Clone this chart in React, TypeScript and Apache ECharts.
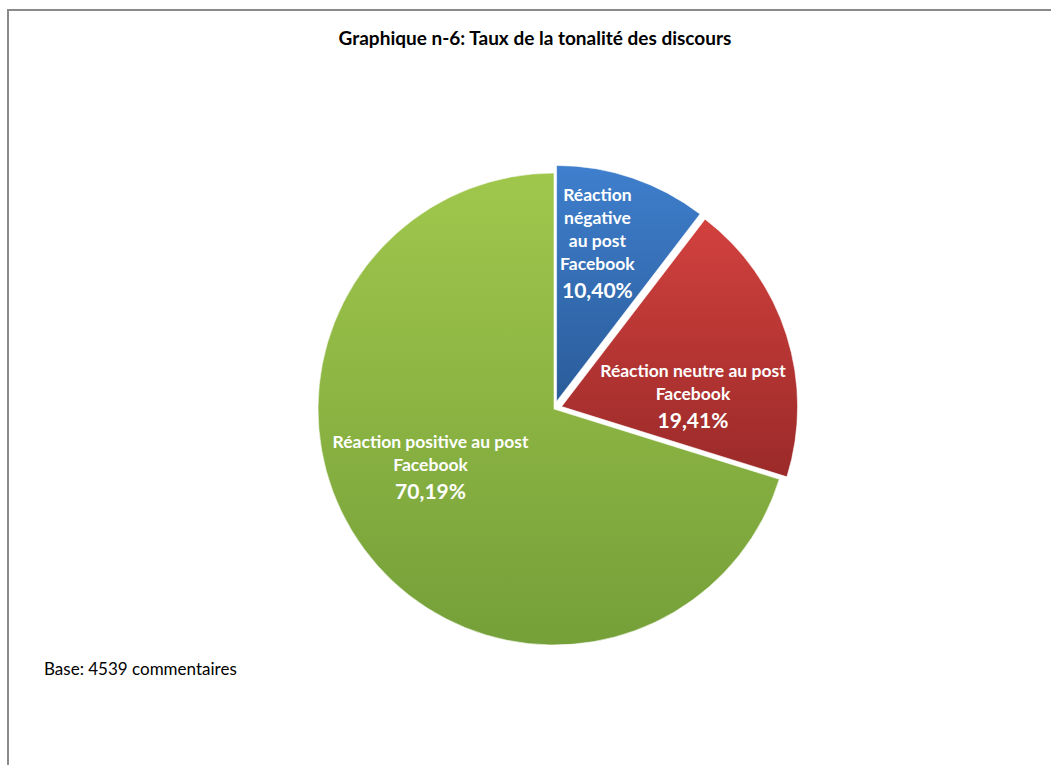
import React, { useEffect, useRef } from "react";
import * as echarts from "echarts";

const categories = [
  "Réaction négative au post Facebook",
  "Réaction neutre au post Facebook",
  "Réaction positive au post Facebook",
];
const labelTexts = [
  "Réaction\nnégative\nau post\nFacebook",
  "Réaction neutre au post\nFacebook",
  "Réaction positive au post\nFacebook",
];
const values = [10.4, 19.41, 70.19];
const exploded = [true, true, false];
const titleText = "Graphique n-6: Taux de la tonalité des discours";
const noteText = "Base: 4539 commentaires";

const gradients = [
  ["#3f7fcd", "#2a5c9a"],
  ["#d2413e", "#9a2a29"],
  ["#a0c74c", "#75a039"],
];
const labelShift = [
  [2, -43],
  [16, 27],
  [-26, -13],
];

const FONT = "Lato, 'Open Sans', sans-serif";

export default function App() {
  const ref = useRef<HTMLDivElement>(null);
  useEffect(() => {
    if (!ref.current) return;
    const chart = echarts.init(ref.current, null, { renderer: "svg" });
    const data = categories.map((name, i) => ({
      name,
      value: values[i],
      selected: exploded[i],
      itemStyle: {
        color: new echarts.graphic.LinearGradient(0, 0, 0, 1, [
          { offset: 0, color: gradients[i][0] },
          { offset: 1, color: gradients[i][1] },
        ]),
      },
      label: {
        formatter: () =>
          labelTexts[i]
            .split("\n")
            .map((l) => `{n|${l}}`)
            .join("\n") +
          `\n{p|${values[i].toFixed(2).replace(".", ",")}%}`,
      },
    }));
    chart.setOption({
      animation: false,
      backgroundColor: "#ffffff",
      graphic: [
        {
          type: "rect",
          shape: { x: 8, y: 10, width: 1100, height: 800 },
          style: { fill: "none", stroke: "#8a8a8a", lineWidth: 2 },
          silent: true,
        },
        {
          type: "text",
          x: 535,
          y: 37,
          style: {
            text: titleText,
            font: `bold 19px ${FONT}`,
            fill: "#000",
            align: "center",
            verticalAlign: "middle",
          },
        },
        {
          type: "text",
          x: 44,
          y: 668,
          style: {
            text: noteText,
            font: `17px ${FONT}`,
            fill: "#000",
            align: "left",
            verticalAlign: "middle",
          },
        },
      ],
      series: [
        {
          type: "pie",
          center: [554, 409],
          radius: [0, 236],
          startAngle: 90,
          clockwise: true,
          selectedMode: "multiple",
          selectedOffset: 8,
          avoidLabelOverlap: false,
          itemStyle: { borderColor: "#ffffff", borderWidth: 0.6 },
          emphasis: { disabled: true },
          select: { disabled: false },
          label: {
            show: true,
            position: "inside",
            color: "#ffffff",
            fontFamily: FONT,
            align: "center",
            rich: {
              n: {
                fontSize: 17.5,
                fontWeight: "bold",
                color: "#ffffff",
                lineHeight: 23,
                fontFamily: FONT,
                align: "center",
              },
              p: {
                fontSize: 21,
                fontWeight: "bold",
                color: "#ffffff",
                lineHeight: 30,
                fontFamily: FONT,
                align: "center",
              },
            },
          },
          labelLine: { show: false },
          labelLayout: (params: any) => ({
            dx: labelShift[params.dataIndex][0],
            dy: labelShift[params.dataIndex][1],
          }),
          data,
        },
      ],
    });
    return () => chart.dispose();
  }, []);
  return (
    <div
      ref={ref}
      style={{ position: "absolute", left: 0, top: 0, width: 1051, height: 765 }}
    />
  );
}
